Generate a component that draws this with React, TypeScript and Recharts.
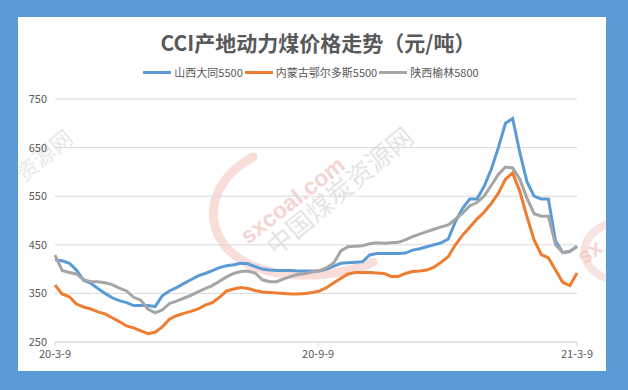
import { LineChart, Line, XAxis, YAxis, CartesianGrid } from 'recharts'

// day offsets from 2020-03-09, sampled every 5 days
const days = [
  0, 5, 10, 15, 20, 25, 30, 35, 40, 45, 50, 55, 60, 65, 70, 75, 80, 85, 90, 95,
  100, 105, 110, 115, 120, 125, 130, 135, 140, 145, 150, 155, 160, 165, 170, 175, 180, 185, 190, 195,
  200, 205, 210, 215, 220, 225, 230, 235, 240, 245, 250, 255, 260, 265, 270, 275, 280, 285, 290, 295,
  300, 305, 310, 315, 320, 325, 330, 335, 340, 345, 350, 355, 360, 365,
]

// 山西大同5500
const datongPrices = [
  419, 417, 412, 398, 377, 371, 360, 350, 341, 335, 331, 325, 325, 325, 323, 345, 355, 362, 370, 378,
  386, 391, 397, 403, 407, 409, 412, 411, 405, 400, 398, 397, 397, 397, 396, 396, 396, 396, 400, 406,
  412, 413, 414, 415, 429, 432, 432, 432, 432, 433, 439, 442, 446, 450, 454, 462, 498, 525, 544, 544,
  570, 605, 650, 700, 710, 640, 580, 550, 544, 544, 458, 434, 436, 447,
]

// 内蒙古鄂尔多斯5500
const ordosPrices = [
  367, 349, 343, 328, 322, 318, 312, 308, 300, 292, 283, 279, 273, 267, 270, 281, 297, 304, 309, 313,
  318, 326, 331, 342, 355, 359, 362, 360, 356, 353, 352, 351, 350, 349, 349, 350, 352, 355, 362, 372,
  381, 390, 393, 393, 393, 392, 391, 385, 385, 391, 395, 396, 398, 404, 414, 426, 450, 470, 486, 503,
  517, 535, 556, 585, 598, 560, 508, 460, 430, 423, 398, 373, 366, 392,
]

// 陕西榆林5800
const yulinPrices = [
  429, 397, 393, 390, 378, 374, 374, 372, 368, 361, 355, 342, 336, 318, 310, 316, 329, 334, 340, 346,
  353, 360, 366, 375, 384, 391, 395, 396, 392, 378, 374, 374, 380, 385, 389, 391, 394, 397, 403, 413,
  438, 446, 447, 448, 452, 454, 453, 454, 455, 460, 467, 472, 477, 482, 487, 491, 503, 515, 530, 537,
  550, 572, 595, 610, 608, 585, 546, 514, 509, 509, 450, 434, 437, 446,
]

const yTicks = [250, 350, 450, 550, 650, 750]
const xTicks = [0, 184, 365]
const xTickLabels = ['20-3-9', '20-9-9', '21-3-9']

const SERIES = [
  { key: 'datong', name: '山西大同5500', color: '#5b9bd5' },
  { key: 'ordos', name: '内蒙古鄂尔多斯5500', color: '#ed7d31' },
  { key: 'yulin', name: '陕西榆林5800', color: '#a5a5a5' },
]

const FONT = '"Noto Sans CJK SC", "Noto Sans", sans-serif'
const TEXT_COLOR = '#595959'

const chartData = days.map((day, i) => ({
  day,
  datong: datongPrices[i],
  ordos: ordosPrices[i],
  yulin: yulinPrices[i],
}))

// faint sxcoal watermark behind the plot
function Watermark() {
  return (
    <svg width={588} height={354} style={{ position: 'absolute', left: 0, top: 0 }}>
      <path
        d="M 235 140 C 170 175, 185 255, 280 258 C 320 259, 345 250, 355 245"
        fill="none"
        stroke="#f4c7c3"
        strokeWidth={9}
        strokeLinecap="round"
        opacity={0.6}
      />
      <text
        x={230}
        y={228}
        transform="rotate(-38 230 228)"
        fontFamily="Arial, sans-serif"
        fontWeight="bold"
        fontSize={23}
        fill="#f2c4c0"
        opacity={0.7}
      >
        sxcoal.com
      </text>
      <text
        x={258}
        y={240}
        transform="rotate(-40 258 240)"
        fontFamily={FONT}
        fontSize={26}
        fill="#dadada"
        opacity={0.7}
      >
        中国煤炭资源网
      </text>
      <text
        x={6}
        y={166}
        transform="rotate(-40 6 166)"
        fontFamily={FONT}
        fontSize={22}
        fill="#e0e0e0"
        opacity={0.7}
      >
        资源网
      </text>
      <path
        d="M 600 205 C 560 210, 555 250, 590 262"
        fill="none"
        stroke="#f4c7c3"
        strokeWidth={8}
        opacity={0.5}
      />
      <text
        x={566}
        y={248}
        transform="rotate(-35 566 248)"
        fontFamily="Arial, sans-serif"
        fontWeight="bold"
        fontSize={22}
        fill="#f2c4c0"
        opacity={0.7}
      >
        sx
      </text>
    </svg>
  )
}

export default function App() {
  return (
    <div
      style={{
        position: 'fixed',
        left: 0,
        top: 0,
        width: 628,
        height: 390,
        background: '#5b9bd5',
      }}
    >
      <div
        style={{
          position: 'absolute',
          left: 18,
          top: 17,
          width: 588,
          height: 354,
          background: '#ffffff',
          overflow: 'hidden',
        }}
      >
        <Watermark />
        <div
          style={{
            position: 'absolute',
            left: 6,
            top: 13,
            width: 588,
            textAlign: 'center',
            fontFamily: FONT,
            fontSize: 21,
            fontWeight: 'bold',
            lineHeight: '24px',
            color: TEXT_COLOR,
            whiteSpace: 'nowrap',
          }}
        >
          CCI产地动力煤价格走势（元/吨）
        </div>
        <div
          style={{
            position: 'absolute',
            left: 0,
            top: 47,
            width: 588,
            display: 'flex',
            justifyContent: 'center',
            alignItems: 'center',
            fontFamily: FONT,
            fontSize: 11,
            lineHeight: '16px',
            color: TEXT_COLOR,
          }}
        >
          {SERIES.map((s) => (
            <div key={s.key} style={{ display: 'flex', alignItems: 'center', marginRight: 2 }}>
              <span
                style={{
                  display: 'inline-block',
                  width: 28,
                  height: 3,
                  background: s.color,
                  marginRight: 3,
                }}
              />
              <span>{s.name}</span>
            </div>
          ))}
        </div>
        <LineChart
          width={588}
          height={354}
          data={chartData}
          margin={{ top: 82, right: 29, left: 0, bottom: 0 }}
          style={{ position: 'absolute', left: 0, top: 0 }}
        >
          <CartesianGrid vertical={false} stroke="#d9d9d9" strokeWidth={1} />
          <XAxis
            dataKey="day"
            type="number"
            domain={[0, 365]}
            ticks={xTicks}
            tickFormatter={(v: number) => xTickLabels[xTicks.indexOf(v)]}
            height={29}
            stroke="#d9d9d9"
            tickSize={4}
            tickMargin={4}
            tick={{ fontSize: 11, fill: TEXT_COLOR, fontFamily: FONT }}
            interval={0}
          />
          <YAxis
            domain={[250, 750]}
            ticks={yTicks}
            width={37}
            axisLine={false}
            tickLine={false}
            tickSize={0}
            tickMargin={8}
            tick={{ fontSize: 11, fill: TEXT_COLOR, fontFamily: FONT }}
            interval={0}
          />
          {SERIES.map((s) => (
            <Line
              key={s.key}
              dataKey={s.key}
              name={s.name}
              type="linear"
              stroke={s.color}
              strokeWidth={3}
              dot={false}
              isAnimationActive={false}
            />
          ))}
        </LineChart>
      </div>
    </div>
  )
}
